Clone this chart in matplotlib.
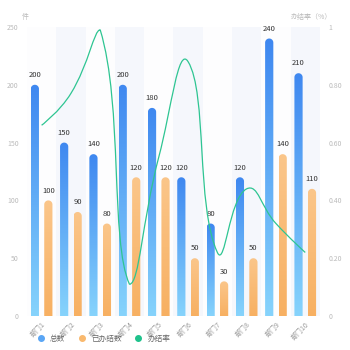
import numpy as np
import matplotlib.pyplot as plt
from matplotlib.path import Path
from matplotlib.patches import PathPatch
from matplotlib.lines import Line2D
from matplotlib.colors import LinearSegmentedColormap

plt.rcParams['font.family'] = ['Noto Sans CJK SC', 'DejaVu Sans']

# Data
depts = ['部门1', '部门2', '部门3', '部门4', '部门5', '部门6', '部门7', '部门8', '部门9', '部门10']
total = [200, 150, 140, 200, 180, 120, 80, 120, 240, 210]
done = [100, 90, 80, 120, 120, 50, 30, 50, 140, 110]
rate = [0.66, 0.77, 0.99, 0.11, 0.55, 0.88, 0.22, 0.44, 0.32, 0.22]

blue_cm = LinearSegmentedColormap.from_list('blue', ['#86d3fc', '#3f88f0'])
orange_cm = LinearSegmentedColormap.from_list('orange', ['#f7b062', '#fbc68a'])

fig = plt.figure(figsize=(3.5, 3.5), dpi=100)
ax = fig.add_axes([0.077, 0.097, 0.837, 0.826])
ax2 = ax.twinx()

n = len(depts)
x = np.arange(n)
ax.set_xlim(-0.5, n - 0.5)
ax.set_ylim(0, 250)
ax2.set_ylim(0, 1)

# pixel scale, used for round bar tops and the smooth line
px_x = 293 / n
px_y = 289 / 250

# alternating background bands
for i in range(n):
    ax.axvspan(i - 0.5, i + 0.5, color='#f5f7fc' if i % 2 else '#fdfdfe', lw=0, zorder=0)

bw = 0.28
off = 0.23

def round_bar(xc, h, cmap):
    r = bw / 2
    ry = r * px_x / px_y
    ry = min(ry, h)
    t = np.linspace(0, np.pi, 30)
    xs = np.concatenate([[xc - r], xc - r * np.cos(t), [xc + r]])
    ys = np.concatenate([[0], h - ry + ry * np.sin(t), [0]])
    path = Path(np.column_stack([xs, ys]))
    patch = PathPatch(path, fc='none', ec='none')
    ax.add_patch(patch)
    grad = np.linspace(0, 1, 100).reshape(-1, 1)
    im = ax.imshow(grad, cmap=cmap, origin='lower', aspect='auto',
                   extent=[xc - r, xc + r, 0, h], vmin=0, vmax=1, zorder=2)
    im.set_clip_path(patch)

for i in range(n):
    round_bar(x[i] - off, total[i], blue_cm)
    round_bar(x[i] + off, done[i], orange_cm)
    ax.text(x[i] - off, total[i] + 5, str(total[i]), ha='center', va='bottom', fontsize=5.5, color='#333333')
    ax.text(x[i] + off, done[i] + 5, str(done[i]), ha='center', va='bottom', fontsize=5.5, color='#333333')

# smooth line: bezier through the points, control points clamped to the points' bounding box
P = np.column_stack([x * px_x, np.array(rate) * 289])
lo, hi = P.min(axis=0), P.max(axis=0)
smooth = 0.5
verts = [P[0]]
codes = [Path.MOVETO]
cp0 = P[0].copy()
for i in range(1, n):
    p = P[i]
    if i < n - 1:
        v = P[i + 1] - P[i - 1]
        d0 = np.hypot(*(p - P[i - 1]))
        d1 = np.hypot(*(P[i + 1] - p))
        r1 = d1 / (d0 + d1)
        cp1 = p - v * smooth * (1 - r1)
    else:
        cp1 = p.copy()
    cp0 = np.clip(cp0, lo, hi)
    cp1 = np.clip(cp1, lo, hi)
    verts += [cp0, cp1, p]
    codes += [Path.CURVE4] * 3
    if i < n - 1:
        cp0 = p + v * smooth * r1
verts = np.array(verts) / np.array([px_x, 289])
line_path = Path(verts, codes)
ax2.add_patch(PathPatch(line_path, fc='none', ec='#2ec592', lw=0.9, zorder=5))

# axes styling
for a in (ax, ax2):
    for sp in a.spines.values():
        sp.set_visible(False)
    a.tick_params(length=0, colors='#bbbbbb', labelsize=5)
ax.set_yticks([0, 50, 100, 150, 200, 250])
ax2.set_yticks([0, 0.2, 0.4, 0.6, 0.8, 1])
ax2.set_yticklabels(['0', '0.20', '0.40', '0.60', '0.80', '1'])
ax.tick_params(axis='y', pad=6)
ax2.tick_params(axis='y', pad=6)
ax.set_xticks(x)
ax.set_xticklabels(depts, rotation=45, ha='right', rotation_mode='anchor', color='#999999', fontsize=5)
ax.tick_params(axis='x', pad=3)

fig.text(0.072, 0.945, '件', fontsize=5, color='#bbbbbb', ha='center')
fig.text(0.89, 0.945, '办结率（%）', fontsize=5, color='#bbbbbb', ha='center')

handles = [Line2D([], [], marker='o', ls='', color='#5aa6f5', ms=4),
           Line2D([], [], marker='o', ls='', color='#f9b96e', ms=4),
           Line2D([], [], marker='o', ls='', color='#1fc28c', ms=4)]
fig.legend(handles, ['总数', '已办结数', '办结率'], loc='center left', bbox_to_anchor=(0.075, 0.032),
           ncol=3, frameon=False, fontsize=5.5, handletextpad=0.2, columnspacing=1.2,
           labelcolor='#666666')

fig.savefig('out.png', dpi=100)
